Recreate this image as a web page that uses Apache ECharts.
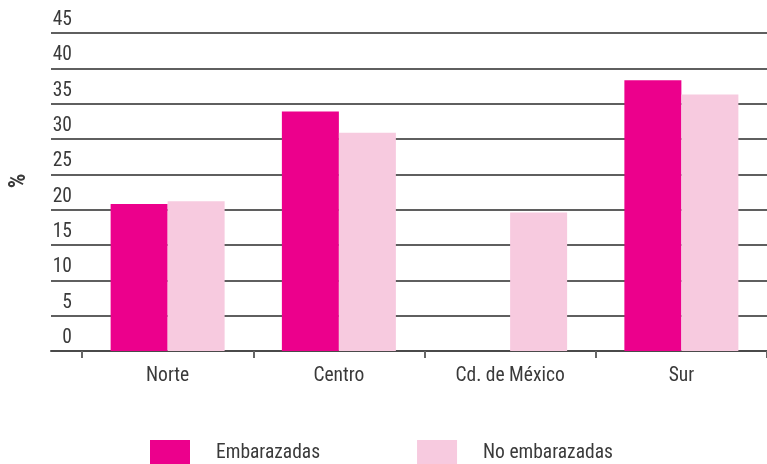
<!DOCTYPE html>
<html>
<head>
<meta charset="utf-8">
<script src="https://cdn.jsdelivr.net/npm/echarts@6/dist/echarts.min.js"></script>
<style>
html,body{margin:0;padding:0;background:#fff;}
#chart{width:767px;height:464px;}
</style>
</head>
<body>
<div id="chart"></div>
<script>
var categories = ['Norte', 'Centro', 'Cd. de México', 'Sur'];
var embarazadas = [20.8, 33.9, null, 38.3];
var noEmbarazadas = [21.2, 30.9, 19.6, 36.3];
var seriesNames = ['Embarazadas', 'No embarazadas'];
var yTicks = {min: 0, max: 45, interval: 5};

var FONT = '"Roboto Condensed", "Open Sans Condensed", sans-serif';
var FS = 19.5;
var TXT = '#3a3a3a';
var chart = echarts.init(document.getElementById('chart'), null, {renderer: 'canvas'});
chart.setOption({
  animation: false,
  backgroundColor: '#fff',
  textStyle: {fontFamily: FONT},
  grid: [
    {left: 40, right: 0, top: 33, bottom: 113},
    {left: 82, width: 687, top: 33, bottom: 113}
  ],
  legend: {
    left: 145, top: 435,
    itemWidth: 40, itemHeight: 27, itemGap: 97,
    icon: 'rect',
    data: seriesNames,
    textStyle: {fontFamily: FONT, fontSize: FS, color: TXT, padding: [0, 0, 0, 21]}
  },
  xAxis: [
    {gridIndex: 0, type: 'value', min: 0, max: 1, show: true,
     axisLine: {show: true, onZero: false, lineStyle: {color: '#4a4a4a', width: 2}},
     axisTick: {show: false}, axisLabel: {show: false}, splitLine: {show: false}},
    {gridIndex: 1, type: 'category', data: categories,
     axisLine: {show: true, lineStyle: {color: '#4a4a4a', width: 2}},
     axisTick: {show: true, length: 7, lineStyle: {color: '#666', width: 2}},
     axisLabel: {margin: 15, fontFamily: FONT, fontSize: FS, color: TXT}}
  ],
  yAxis: [
    {gridIndex: 0, type: 'value', min: yTicks.min, max: yTicks.max, interval: yTicks.interval,
     name: '%', nameLocation: 'middle', nameRotate: 90, nameGap: 20,
     nameTextStyle: {fontFamily: FONT, fontSize: 23, fontWeight: 'bold', color: TXT, padding: [0, 0, 0, 22]},
     axisLine: {show: false}, axisTick: {show: false},
     axisLabel: {inside: true, align: 'right', verticalAlign: 'bottom', lineHeight: 26, margin: 21,
                 fontFamily: FONT, fontSize: FS, color: TXT},
     splitLine: {show: true, lineStyle: {color: '#2a2a2a', width: 1.5}}},
    {gridIndex: 1, type: 'value', min: yTicks.min, max: yTicks.max, interval: yTicks.interval, show: false,
     splitLine: {show: false}}
  ],
  series: [
    {name: seriesNames[0], type: 'bar', xAxisIndex: 1, yAxisIndex: 1, data: embarazadas,
     barWidth: 57, barGap: '0%', itemStyle: {color: '#EC008C'}},
    {name: seriesNames[1], type: 'bar', xAxisIndex: 1, yAxisIndex: 1, data: noEmbarazadas,
     barWidth: 57, barGap: '0%', itemStyle: {color: '#F7CADF'}}
  ]
});
</script>
</body>
</html>
